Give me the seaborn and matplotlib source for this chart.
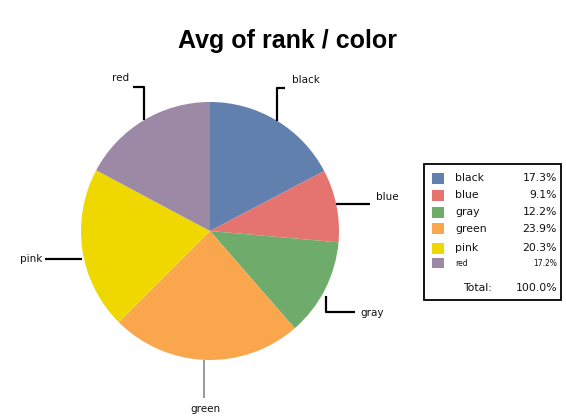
import matplotlib
matplotlib.use("Agg")
import numpy as np
import matplotlib.pyplot as plt
import seaborn as sns
from matplotlib.lines import Line2D
from matplotlib.patches import Rectangle

# Average rank share per colour
categories = ["black", "blue", "gray", "green", "pink", "red"]
avg_rank_pct = [17.3, 9.1, 12.2, 23.9, 20.3, 17.2]
total_label = "100.0%"
slice_colors = ["#6280ad", "#e5736f", "#6fac6b", "#f9a64c", "#efd800", "#9c89a6"]

sns.set_theme(style="white")
plt.rcParams["font.family"] = ["DejaVu Sans"]

W, H = 566, 418
fig = plt.figure(figsize=(W / 100, H / 100), dpi=100)
fig.patch.set_facecolor("white")


def fx(px):
    return px / W


def fy(py):
    return 1 - py / H


# pie placement (pixel centre and radius)
cx, cy, R = 210, 231, 129
ax = fig.add_axes([fx(cx - R), fy(cy + R), 2 * R / W, 2 * R / H])
wedges, _ = ax.pie(avg_rank_pct, colors=sns.color_palette(slice_colors),
                   startangle=90, counterclock=False, radius=1,
                   wedgeprops=dict(linewidth=0))
ax.set_xlim(-1, 1)
ax.set_ylim(-1, 1)
ax.set_aspect("equal")
ax.axis("off")

fig.text(fx(287), fy(41), "Avg of rank / color", ha="center", va="center",
         fontsize=18, fontweight="bold", family=["Liberation Sans"],
         color="black")

text_color = "#111111"

# leader-line routes as pixel offsets from each slice's mid-arc point
routes = {
    "black": ([(0, 0), (0, -33), (8, -33)], (15, -41), "left", "black"),
    "blue": ([(0, -2), (34, -2)], (40, -9), "left", "black"),
    "gray": ([(1, 6), (1, 22), (30, 22)], (35, 23), "left", "black"),
    "green": ([(-2, 0), (-2, 38)], (0, 49), "center", "#888888"),
    "pink": ([(0, 9), (-37, 9)], (-40, 9), "right", "black"),
    "red": ([(0, 0), (0, -33), (-11, -33)], (-15, -42), "right", "black"),
}

for w, name in zip(wedges, categories):
    mid = np.deg2rad((w.theta1 + w.theta2) / 2)
    ax_x, ax_y = cx + R * np.cos(mid), cy - R * np.sin(mid)
    pts, toff, ha, lc = routes[name]
    xs = [fx(ax_x + dx) for dx, dy in pts]
    ys = [fy(ax_y + dy) for dx, dy in pts]
    fig.add_artist(Line2D(xs, ys, color=lc, lw=1.6 if lc == "black" else 1.2,
                          solid_capstyle="butt"))
    fig.text(fx(ax_x + toff[0]), fy(ax_y + toff[1]), name, ha=ha, va="center",
             fontsize=7.5, color=text_color)

# legend table
fig.add_artist(Rectangle((fx(424), fy(300)), (561 - 424) / W, (300 - 164) / H,
                         transform=fig.transFigure, facecolor="white",
                         edgecolor="black", lw=1.3))
row_y = [178, 195, 212, 229, 248, 263]
for name, val, col, y in zip(categories, avg_rank_pct, slice_colors, row_y):
    small = name == "red"
    sh = 11 if not small else 10
    fig.add_artist(Rectangle((fx(432), fy(y + sh / 2)), 12 / W, sh / H,
                             transform=fig.transFigure, facecolor=col,
                             edgecolor="none"))
    fs = 5.5 if small else 7.8
    fig.text(fx(455), fy(y), name, ha="left", va="center", fontsize=fs,
             color=text_color)
    fig.text(fx(557), fy(y), f"{val:.1f}%", ha="right", va="center",
             fontsize=fs, color=text_color)

fig.text(fx(492), fy(288), "Total:", ha="right", va="center", fontsize=7.8,
         color=text_color)
fig.text(fx(557), fy(288), total_label, ha="right", va="center", fontsize=7.8,
         color=text_color)

fig.savefig("out.png", dpi=100, facecolor="white")
